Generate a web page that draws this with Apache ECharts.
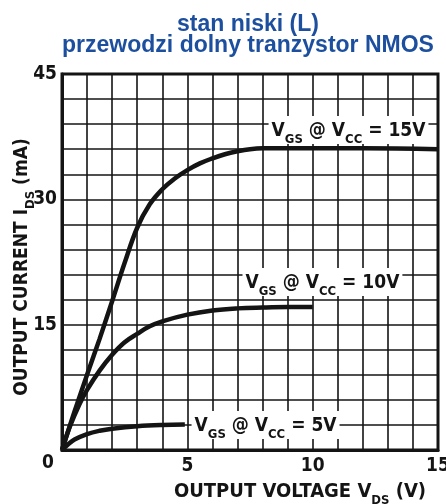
<!DOCTYPE html>
<html>
<head>
<meta charset="utf-8">
<script src="https://cdn.jsdelivr.net/npm/echarts@6/dist/echarts.min.js"></script>
<style>
  html, body { margin: 0; padding: 0; background: #fff; }
  #chart { width: 446px; height: 504px; }
</style>
</head>
<body>
<div id="chart"></div>
<script>
// Vds (V) / Ids (mA)
const vds15 = [0, 0.5, 1.0, 1.5, 2.0, 2.5, 3.0, 3.5, 4.0, 4.5, 5.0, 5.5, 6.0, 6.5, 7.0, 7.5, 8.0, 9, 10, 12, 15];
const ids15 = [0, 4.6, 9.0, 13.3, 17.8, 22.4, 26.6, 29.4, 31.2, 32.5, 33.5, 34.3, 34.9, 35.4, 35.75, 36.0, 36.1, 36.1, 36.1, 36.1, 36.0];
const vds10 = [0, 0.3, 0.7, 1.0, 1.5, 2.0, 2.5, 3.0, 3.5, 4.0, 5.0, 6.0, 7.0, 8.0, 9.0, 10];
const ids10 = [0, 2.7, 5.5, 7.2, 9.5, 11.4, 12.9, 13.9, 14.8, 15.4, 16.2, 16.7, 16.95, 17.05, 17.1, 17.1];
const vds5 = [0, 0.25, 0.5, 1.0, 1.5, 2.0, 3.0, 4.0, 4.9];
const ids5 = [0, 0.7, 1.25, 1.9, 2.3, 2.55, 2.85, 3.0, 3.05];

// curve labels: text, anchor [Vds, Ids]
const curveNames = ["15V", "10V", "5V"];
const labelAt = [[11.43, 38.3], [10.39, 20.1], [8.12, 3.0]];

const xTicks = [5, 10, 15];
const yTicks = [0, 15, 30, 45];

const narrow = "'Liberation Sans Narrow', 'DejaVu Sans Condensed', sans-serif";
const ink = "#141414";

function pairs(xs, ys) {
  return xs.map((x, i) => [x, ys[i]]);
}

function subRich(size) {
  return {
    v: { fontFamily: narrow, fontWeight: "bold", fontSize: size, color: ink, verticalAlign: "bottom", lineHeight: 24 },
    s: { fontFamily: narrow, fontWeight: "bold", fontSize: 13, color: ink, verticalAlign: "bottom", lineHeight: 24, padding: [0, 0, -5, 0] }
  };
}

function curve(xs, ys, i) {
  return {
    type: "line",
    data: pairs(xs, ys),
    smooth: 0.4,
    symbol: "none",
    lineStyle: { color: ink, width: 4.5 },
    z: 3,
    markPoint: {
      symbolSize: 0,
      data: [{ coord: labelAt[i] }],
      label: {
        show: true,
        position: "inside",
        formatter: "{v|V}{s|GS}{v| @ V}{s|CC}{v| = " + curveNames[i] + "}",
        backgroundColor: "#fff",
        padding: [1, 3, 3, 3],
        rich: subRich(19)
      }
    }
  };
}

const chart = echarts.init(document.getElementById("chart"));
chart.setOption({
  animation: false,
  title: {
    text: "stan niski (L)\nprzewodzi dolny tranzystor NMOS",
    left: 243,
    top: 9,
    textAlign: "center",
    textStyle: {
      fontFamily: "'Liberation Sans', Arial, sans-serif",
      fontWeight: "bold",
      fontSize: 23,
      lineHeight: 21,
      color: "#1d4f9f"
    }
  },
  grid: {
    left: 62, right: 8, top: 74, bottom: 54,
    outerBoundsMode: "none",
    containLabel: false,
    show: true, borderColor: ink, borderWidth: 3
  },
  xAxis: {
    type: "value",
    min: 0, max: 15, interval: 1,
    name: "{v|OUTPUT VOLTAGE V}{s|DS}{v| (V)}",
    nameLocation: "middle",
    nameGap: 28,
    nameTextStyle: {
      padding: [0, 0, 0, 100],
      rich: subRich(20)
    },
    axisLine: { lineStyle: { color: ink, width: 3 } },
    axisTick: { show: false },
    axisLabel: {
      margin: 7,
      fontFamily: narrow, fontWeight: "bold", fontSize: 19, color: ink,
      formatter: v => (xTicks.includes(v) ? String(v) : "")
    },
    splitLine: { show: true, lineStyle: { color: ink, width: 1.6 } }
  },
  yAxis: {
    type: "value",
    min: 0, max: 45, interval: 3,
    name: "{v|OUTPUT CURRENT I}{s|DS}{v| (mA)}",
    nameLocation: "middle",
    nameGap: 30,
    nameMoveOverlap: false,
    nameTextStyle: {
      padding: [0, 10, 0, 0],
      rich: subRich(19)
    },
    axisLine: { lineStyle: { color: ink, width: 3 } },
    axisTick: { show: false },
    axisLabel: {
      margin: 5,
      fontFamily: narrow, fontWeight: "bold", fontSize: 19, color: ink,
      formatter: v => (yTicks.includes(v) ? (v === 0 ? "{z|0}" : String(v)) : ""),
      rich: { z: { fontFamily: narrow, fontWeight: "bold", fontSize: 19, color: ink, padding: [26, 3, 0, 0] } }
    },
    splitLine: { show: true, lineStyle: { color: ink, width: 1.6 } }
  },
  series: [
    curve(vds15, ids15, 0),
    curve(vds10, ids10, 1),
    curve(vds5, ids5, 2)
  ]
});
</script>
</body>
</html>
